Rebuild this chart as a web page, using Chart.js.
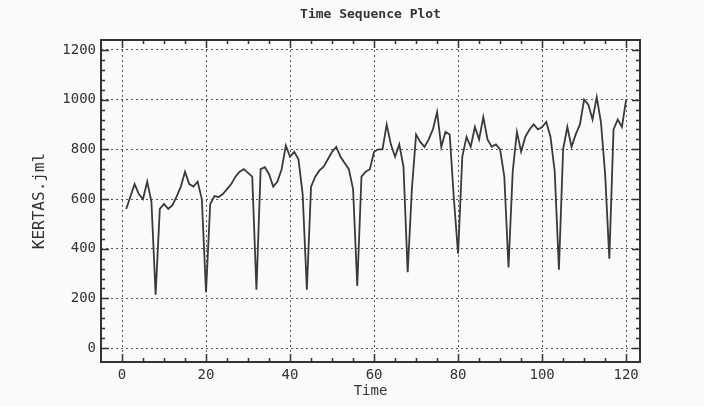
<!DOCTYPE html>
<html>
<head>
<meta charset="utf-8">
<script src="https://cdn.jsdelivr.net/npm/chart.js@4.4.0/dist/chart.umd.min.js"></script>
<style>
  html, body { margin: 0; padding: 0; background: #fcf9f9; }
  canvas { display: block; }
</style>
</head>
<body>
<canvas id="plot" width="704" height="406"></canvas>
<script>
// monthly KERTAS.jml values, t = 1..120
let kertas = [
  560, 610, 660, 620, 600, 670, 590, 215, 560, 580, 560, 575,
  610, 650, 710, 660, 650, 670, 600, 225, 580, 612, 608, 620,
  640, 660, 690, 710, 720, 705, 690, 235, 720, 728, 700, 650,
  670, 720, 815, 770, 790, 760, 620, 235, 650, 690, 715, 730,
  760, 790, 810, 770, 745, 720, 640, 250, 690, 710, 720, 790,
  800, 800, 900, 820, 770, 820, 730, 305, 640, 860, 830, 810,
  840, 880, 950, 810, 870, 860, 600, 380, 770, 850, 810, 890,
  840, 930, 840, 810, 820, 800, 690, 325, 710, 870, 790, 850,
  880, 900, 880, 890, 910, 850, 710, 315, 800, 890, 810, 860,
  900, 1000, 980, 920, 1010, 910, 700, 360, 880, 920, 890, 1000
]
let xLabels = [0, 20, 40, 60, 80, 100, 120]
let yLabels = [0, 200, 400, 600, 800, 1000, 1200]

let points = []
kertas.forEach(function(v, i){
  points.push({ x: i + 1, y: v })
})

const monoFont = { family: "'DejaVu Sans Mono', monospace", size: 14 }
const ink = '#333'

// frame with inward tick marks on all four sides
const frameTicks = {
  id: 'frameTicks',
  afterDraw(chart) {
    const ctx = chart.ctx
    const a = chart.chartArea
    const sx = chart.scales.x
    const sy = chart.scales.y
    ctx.save()
    ctx.strokeStyle = ink
    ctx.lineWidth = 1.5
    for (let v = 0; v <= 120; v += 5) {
      const px = Math.round(sx.getPixelForValue(v)) + 0.5
      const len = v % 20 === 0 ? 8 : 4
      ctx.beginPath()
      ctx.moveTo(px, a.bottom); ctx.lineTo(px, a.bottom - len)
      ctx.moveTo(px, a.top); ctx.lineTo(px, a.top + len)
      ctx.stroke()
    }
    for (let v = 0; v <= 1200; v += 40) {
      const py = Math.round(sy.getPixelForValue(v)) + 0.5
      const len = v % 200 === 0 ? 8 : 4
      ctx.beginPath()
      ctx.moveTo(a.left, py); ctx.lineTo(a.left + len, py)
      ctx.moveTo(a.right, py); ctx.lineTo(a.right - len, py)
      ctx.stroke()
    }
    ctx.lineWidth = 2
    ctx.strokeRect(a.left, a.top, a.right - a.left, a.bottom - a.top)
    ctx.restore()
  }
}

new Chart(document.getElementById('plot'), {
  type: 'line',
  data: {
    datasets: [{
      label: 'KERTAS.jml',
      data: points,
      borderColor: '#3a3a3a',
      borderWidth: 1.8,
      pointRadius: 0,
      tension: 0,
      fill: false
    }]
  },
  options: {
    responsive: false,
    animation: false,
    layout: { padding: { left: 0, right: 64, top: 0, bottom: 0 } },
    plugins: {
      legend: { display: false },
      tooltip: { enabled: false },
      title: {
        display: true,
        fullSize: false,
        text: 'Time Sequence Plot',
        color: ink,
        font: { family: monoFont.family, size: 13, weight: 'bold' },
        padding: { top: 7, bottom: 17.4 }
      }
    },
    scales: {
      x: {
        type: 'linear',
        min: -5,
        max: 123.3,
        afterBuildTicks: function(s){ s.ticks = xLabels.map(function(v){ return { value: v } }) },
        afterFit: function(s){ s.height = 44 },
        ticks: { color: ink, font: monoFont, padding: 5, maxRotation: 0, autoSkip: false,
                 callback: function(v){ return String(v) } },
        grid: { drawTicks: false, color: '#555', lineWidth: 1 },
        border: { display: false, dash: [2, 3] },
        title: { display: true, text: 'Time', color: ink, font: monoFont, padding: { top: 0, bottom: 6 } }
      },
      y: {
        min: -56,
        max: 1240,
        afterBuildTicks: function(s){ s.ticks = yLabels.map(function(v){ return { value: v } }) },
        afterFit: function(s){ s.width = 101 },
        ticks: { color: ink, font: monoFont, padding: 5, autoSkip: false,
                 callback: function(v){ return String(v) } },
        grid: { drawTicks: false, color: '#555', lineWidth: 1 },
        border: { display: false, dash: [2, 3] },
        title: { display: true, text: 'KERTAS.jml', color: ink,
                 font: { family: monoFont.family, size: 16 }, padding: { top: 30, bottom: 0 } }
      }
    }
  },
  plugins: [frameTicks]
})
</script>
</body>
</html>
